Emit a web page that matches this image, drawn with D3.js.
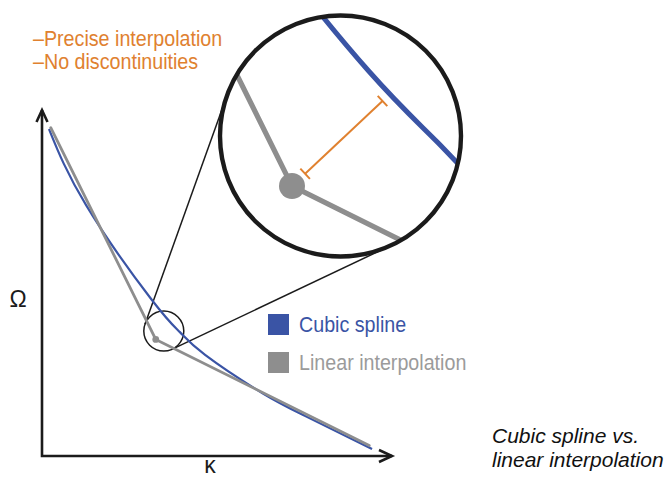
<!DOCTYPE html>
<html>
<head>
<meta charset="utf-8">
<script src="https://cdn.jsdelivr.net/npm/d3@7"></script>
<style>
  body { margin: 0; background: #fff; }
  svg { display: block; }
</style>
</head>
<body>
<script>
// values, in (kappa, omega) units
const splineK = [0.2, 1.26, 3.14, 3.94, 4.66, 6.29, 7.51, 9.43];
const splineO = [9.45, 7.25, 4.51, 3.58, 2.92, 1.82, 1.16, 0.20];
const linearK = [0.25, 3.25, 9.35];
const linearO = [9.49, 3.37, 0.30];
const focusK = 3.48, focusO = 3.61;   // centre of the magnified spot
const noteLines = ["–Precise interpolation", "–No discontinuities"];
const legendLabels = ["Cubic spline", "Linear interpolation"];
const captionLines = ["Cubic spline vs.", "linear interpolation"];

const blue = "#3a54a5", gray = "#8e8e8e", orange = "#e0812f", ink = "#1b1b1b";

const width = 670, height = 477;
const svg = d3.select("body").append("svg")
    .attr("width", width)
    .attr("height", height);

const x = d3.scaleLinear().domain([0, 10]).range([42, 392]);
const y = d3.scaleLinear().domain([0, 10]).range([456, 110]);

const spline = d3.zip(splineK, splineO);
const linear = d3.zip(linearK, linearO);

// axes (no ticks, arrow heads only)
const x0 = x.range()[0], x1 = x.range()[1], y0 = y.range()[0], y1 = y.range()[1];
const axes = svg.append("g")
    .attr("fill", "none")
    .attr("stroke", ink)
    .attr("stroke-width", 2.6);
axes.append("path").attr("d", `M${x0},${y1}V${y0}H${x1}`);
axes.append("path").attr("d", `M${x0 - 5.5},${y1 + 12}L${x0},${y1}L${x0 + 5.5},${y1 + 12}`);
axes.append("path").attr("d", `M${x1 - 13},${y0 - 6}L${x1},${y0}L${x1 - 13},${y0 + 6}`);

svg.append("text")
    .attr("x", 18).attr("y", 307)
    .attr("text-anchor", "middle")
    .attr("font-family", "Liberation Sans, Arial, sans-serif")
    .attr("font-size", 23)
    .attr("fill", ink)
    .text("Ω");
svg.append("text")
    .attr("x", (x0 + x1) / 2 - 7).attr("y", 473)
    .attr("text-anchor", "middle")
    .attr("font-family", "Liberation Sans, Arial, sans-serif")
    .attr("font-size", 23)
    .attr("fill", ink)
    .text("κ");

// magnifier: small circle on the data, big circle with the zoomed view
const small = {cx: x(focusK), cy: y(focusO), r: 20};
const big = {cx: 340.5, cy: 136, r: 120.5};
const k = big.r / small.r;

// outer tangents between the two circles
const dx = big.cx - small.cx, dy = big.cy - small.cy;
const dist = Math.hypot(dx, dy);
const u = [dx / dist, dy / dist], p = [-u[1], u[0]];
const s = (big.r - small.r) / dist, c = Math.sqrt(1 - s * s);
[1, -1].forEach(sg => {
    const n = [-s * u[0] + sg * c * p[0], -s * u[1] + sg * c * p[1]];
    svg.append("line")
        .attr("x1", small.cx + small.r * n[0]).attr("y1", small.cy + small.r * n[1])
        .attr("x2", big.cx + big.r * n[0]).attr("y2", big.cy + big.r * n[1])
        .attr("stroke", ink)
        .attr("stroke-width", 1.5);
});

svg.append("circle")
    .attr("cx", small.cx).attr("cy", small.cy).attr("r", small.r)
    .attr("fill", "none")
    .attr("stroke", ink)
    .attr("stroke-width", 1.5);

// main curves
const line = d3.line().x(d => x(d[0])).y(d => y(d[1]));

svg.append("path")
    .datum(spline)
    .attr("d", line.curve(d3.curveNatural))
    .attr("fill", "none")
    .attr("stroke", blue)
    .attr("stroke-width", 2.2);

svg.append("path")
    .datum(linear)
    .attr("d", line.curve(d3.curveLinear))
    .attr("fill", "none")
    .attr("stroke", gray)
    .attr("stroke-width", 2.8)
    .attr("stroke-linecap", "round");

svg.append("circle")
    .attr("cx", x(linearK[1])).attr("cy", y(linearO[1])).attr("r", 3.4)
    .attr("fill", gray);

// zoomed view
const xi = v => big.cx + k * (x(v) - small.cx);
const yi = v => big.cy + k * (y(v) - small.cy);
const lineIn = d3.line().x(d => xi(d[0])).y(d => yi(d[1]));

svg.append("clipPath").attr("id", "lens")
    .append("circle")
    .attr("cx", big.cx).attr("cy", big.cy).attr("r", big.r);

const inset = svg.append("g").attr("clip-path", "url(#lens)");

const bluePath = inset.append("path")
    .datum(spline)
    .attr("d", lineIn.curve(d3.curveNatural))
    .attr("fill", "none")
    .attr("stroke", blue)
    .attr("stroke-width", 5);

inset.append("path")
    .datum(linear)
    .attr("d", lineIn.curve(d3.curveLinear))
    .attr("fill", "none")
    .attr("stroke", gray)
    .attr("stroke-width", 5.2);

const dot = [xi(linearK[1]), yi(linearO[1])];
inset.append("circle")
    .attr("cx", dot[0]).attr("cy", dot[1]).attr("r", 13)
    .attr("fill", gray);

// gap between the kink and the spline
const node = bluePath.node(), total = node.getTotalLength();
let near = null, best = Infinity;
for (let l = 0; l <= total; l += 0.5) {
    const q = node.getPointAtLength(l);
    const dd = Math.hypot(q.x - dot[0], q.y - dot[1]);
    if (dd < best) { best = dd; near = [q.x, q.y]; }
}
const g = [(near[0] - dot[0]) / best, (near[1] - dot[1]) / best];
const a = [dot[0] + g[0] * 18, dot[1] + g[1] * 18];
const b = [near[0] - g[0] * 10, near[1] - g[1] * 10];
const gap = svg.append("g")
    .attr("stroke", orange)
    .attr("stroke-width", 2);
gap.append("line").attr("x1", a[0]).attr("y1", a[1]).attr("x2", b[0]).attr("y2", b[1]);
[a, b].forEach(e => {
    gap.append("line")
        .attr("x1", e[0] - g[1] * 7).attr("y1", e[1] + g[0] * 7)
        .attr("x2", e[0] + g[1] * 7).attr("y2", e[1] - g[0] * 7);
});

svg.append("circle")
    .attr("cx", big.cx).attr("cy", big.cy).attr("r", big.r)
    .attr("fill", "none")
    .attr("stroke", ink)
    .attr("stroke-width", 4.4);

// narrow text, like the condensed face in the figure
const narrow = (sel, tx, ty) => sel
    .attr("transform", `translate(${tx},${ty}) scale(0.895,1)`)
    .attr("font-family", "Liberation Sans, Arial, sans-serif")
    .attr("font-size", 22);

noteLines.forEach((t, i) => {
    svg.append("text")
        .call(narrow, 33, 46 + i * 22.5)
        .attr("fill", orange)
        .text(t);
});

// legend
const legendColors = [blue, gray], legendText = [blue, "#9b9b9b"];
legendLabels.forEach((t, i) => {
    const row = svg.append("g").attr("transform", `translate(268,${314 + i * 38})`);
    row.append("rect")
        .attr("width", 21).attr("height", 21)
        .attr("fill", legendColors[i]);
    row.append("text")
        .call(narrow, 31, 18)
        .attr("fill", legendText[i])
        .text(t);
});

// caption
captionLines.forEach((t, i) => {
    svg.append("text")
        .attr("x", 492).attr("y", 443 + i * 24)
        .attr("font-family", "Liberation Sans, Arial, sans-serif")
        .attr("font-style", "italic")
        .attr("font-size", 21)
        .attr("fill", "#111")
        .text(t);
});
</script>
</body>
</html>
